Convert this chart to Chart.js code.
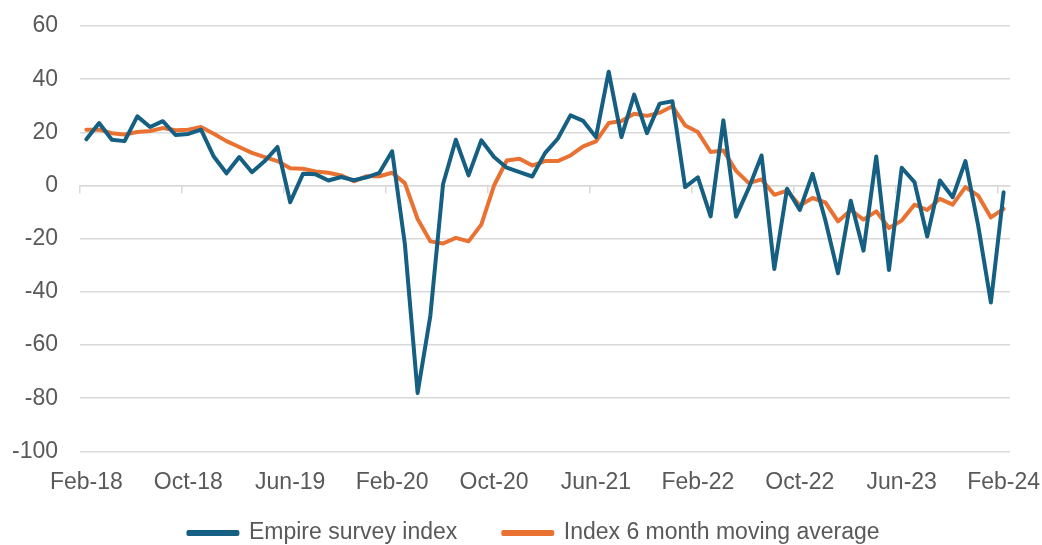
<!DOCTYPE html>
<html lang="en">
<head>
  <meta charset="utf-8">
  <script src="https://cdn.jsdelivr.net/npm/chart.js"></script>
  <style>
    html, body { margin: 0; padding: 0; background: #ffffff; }
    .wrap { width: 1042px; height: 545px; }
  </style>
</head>
<body>
  <div class="wrap">
    <canvas id="chartLine" width="1042" height="545"></canvas>
  </div>

<script>
  // monthly categories Feb-18 .. Feb-24
  var mesesNomes = ["Jan","Feb","Mar","Apr","May","Jun","Jul","Aug","Sep","Oct","Nov","Dec"];
  var rotulos = [];
  for (var i = 0; i < 73; i++) {
    var m = (1 + i) % 12;
    var a = 18 + Math.floor((1 + i) / 12);
    rotulos.push(mesesNomes[m] + "-" + a);
  }

  // labels shown on the x axis
  var rotulosEixo = ["Feb-18","Oct-18","Jun-19","Feb-20","Oct-20","Jun-21","Feb-22","Oct-22","Jun-23","Feb-24"];

  // Empire survey index
  var indiceEmpire = [
    17.4, 23.5, 17.2, 16.7, 26.0, 22.0, 24.2, 19.0, 19.4, 21.0, 10.9,
    4.6, 10.7, 5.0, 9.2, 14.5, -6.3, 4.4, 4.2, 1.9, 3.2,
    2.0, 3.1, 4.8, 12.9, -22.0, -78.0, -49.0, 0.6, 17.2, 3.8,
    17.0, 10.7, 6.7, 5.0, 3.4, 12.2, 17.6, 26.4, 24.3, 18.2,
    42.8, 18.2, 34.2, 19.7, 30.8, 31.7, -0.6, 3.1, -11.6, 24.5,
    -11.7, -0.9, 11.3, -31.4, -1.2, -9.2, 4.4, -13.0, -33.0, -5.7,
    -24.5, 10.9, -31.8, 6.7, 1.3, -19.2, 1.9, -4.4, 9.2, -15.0, -44.0, -2.5
  ];

  // Index 6 month moving average
  var mediaMovel = [
    21.0, 21.0, 19.7, 19.2, 20.1, 20.5, 21.6, 20.8, 21.0, 22.0, 19.5,
    16.7, 14.5, 12.3, 10.7, 9.2, 6.5, 6.3, 5.3, 4.8, 3.8,
    1.6, 3.5, 3.5, 4.8, 0.9, -12.6, -21.0, -21.8, -19.7, -21.0,
    -14.7, 0.0, 9.4, 10.1, 7.5, 9.2, 9.2, 11.3, 14.7, 16.6,
    23.5, 24.3, 27.0, 26.2, 27.4, 29.8, 22.6, 20.1, 12.6, 13.2,
    5.5, 0.9, 2.3, -3.5, -1.9, -7.5, -4.7, -6.3, -13.5, -9.2,
    -12.8, -9.7, -16.0, -13.2, -7.2, -9.2, -5.0, -7.2, -0.6, -3.8, -12.0, -8.8
  ];

  var corTexto = '#595959';
  var corGrade = '#d9d9d9';
  Chart.defaults.font.family = "'Liberation Sans', Arial, sans-serif";
  Chart.defaults.font.size = 23;
  Chart.defaults.color = corTexto;

  // legenda: caixa baixa, itens bem espaçados na horizontal
  var ajusteLegenda = {
    id: 'ajusteLegenda',
    beforeInit: function (chart) {
      var leg = chart.legend;
      var fitOriginal = leg.fit;
      var drawOriginal = leg.draw;
      leg.fit = function () {
        fitOriginal.call(this);
        this.height = 40;
      };
      leg.draw = function () {
        var topo = this.top, esq = this.left, dir = this.right;
        var pad = this.options.labels.padding;
        this.top = this.bottom - 12 - 11.5 - pad;
        this.left = esq + 29;
        this.right = dir + 29;
        drawOriginal.call(this);
        this.top = topo; this.left = esq; this.right = dir;
      };
    }
  };

  var ctx = document.getElementById("chartLine").getContext("2d");
  var config = {
    type: 'line',
    data: {
      labels: rotulos,
      datasets: [
        {
          label: 'Empire survey index',
          data: indiceEmpire,
          borderColor: '#156082',
          backgroundColor: '#156082',
          borderWidth: 4,
          borderJoinStyle: 'round',
          borderCapStyle: 'round',
          pointRadius: 0,
          tension: 0
        },
        {
          label: 'Index 6 month moving average',
          data: mediaMovel,
          borderColor: '#e97132',
          backgroundColor: '#e97132',
          borderWidth: 4,
          borderJoinStyle: 'round',
          borderCapStyle: 'round',
          pointRadius: 0,
          tension: 0
        }
      ]
    },
    options: {
      responsive: false,
      animation: false,
      maintainAspectRatio: false,
      layout: { padding: { top: 26, right: 32, left: 0, bottom: 0 } },
      plugins: {
        tooltip: { enabled: false },
        legend: {
          position: 'bottom',
          labels: {
            boxWidth: 49,
            boxHeight: 2,
            padding: 46,
            color: corTexto
          }
        }
      },
      scales: {
        x: {
          type: 'category',
          offset: true,
          afterFit: function (escala) {
            escala.paddingLeft = 0;
            escala.paddingRight = 0;
          },
          grid: { display: false, offset: true },
          border: { display: false },
          ticks: {
            autoSkip: false,
            maxRotation: 0,
            padding: 9,
            callback: function (valor, indice) {
              var r = rotulos[indice];
              return rotulosEixo.indexOf(r) >= 0 ? r : '';
            }
          }
        },
        // axis line at zero with tick marks every 8 months
        x2: {
          type: 'category',
          labels: rotulos,
          offset: true,
          position: { y: 0 },
          grid: {
            offset: true,
            drawOnChartArea: false,
            drawTicks: true,
            tickLength: 7,
            lineWidth: 1.5,
            tickColor: function (c) { return c.index % 8 === 0 ? corGrade : 'rgba(0,0,0,0)'; }
          },
          border: { display: true, color: corGrade, width: 1.5 },
          ticks: { display: false }
        },
        y: {
          min: -100,
          max: 60,
          afterFit: function (escala) {
            escala.width = 80;
            escala.paddingTop = 0;
            escala.paddingBottom = 0;
          },
          grid: { color: corGrade, lineWidth: 1.5, drawTicks: false },
          border: { display: false },
          ticks: { stepSize: 20, padding: 22 }
        }
      }
    },
    plugins: [ajusteLegenda]
  };

  var grafico = new Chart(ctx, config);
</script>
</body>
</html>
